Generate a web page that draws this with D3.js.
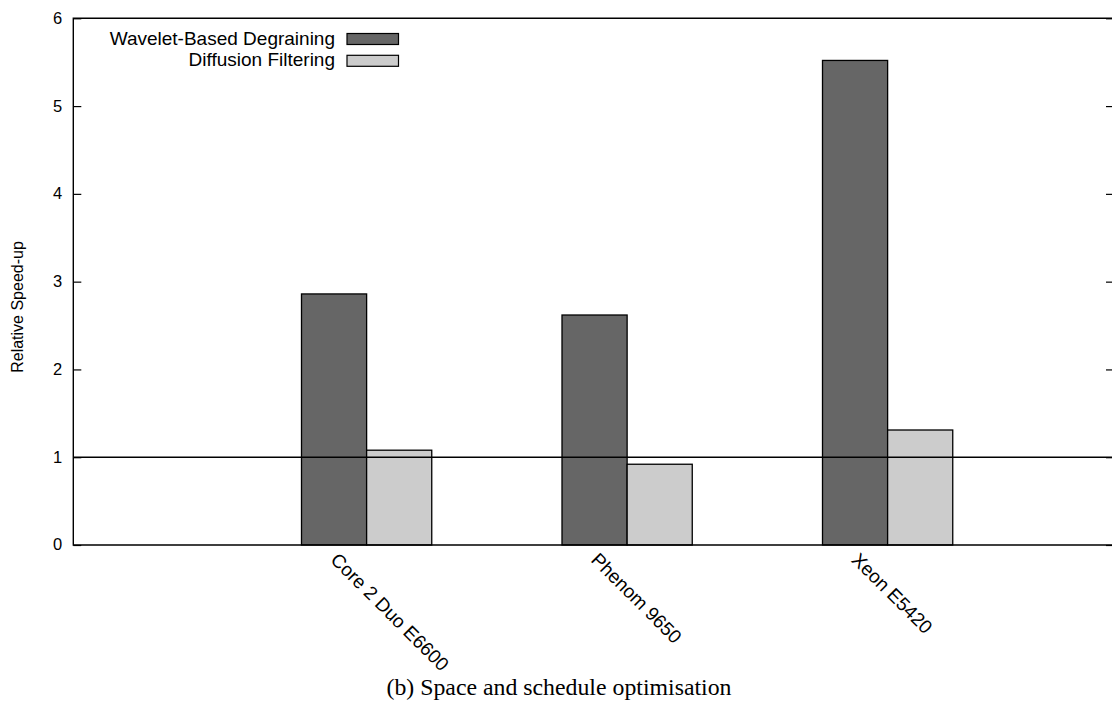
<!DOCTYPE html>
<html>
<head>
<meta charset="utf-8">
<script src="https://cdn.jsdelivr.net/npm/d3@7"></script>
<style>
  html, body { margin: 0; padding: 0; background: #fff; }
  svg { display: block; }
</style>
</head>
<body>
<svg id="chart" width="1112" height="709"></svg>
<script>
// Processors on the x axis
const processors = ["Core 2 Duo E6600", "Phenom 9650", "Xeon E5420"];
// Relative speed-up per processor
const waveletDegraining = [2.86, 2.62, 5.52];
const diffusionFiltering = [1.08, 0.92, 1.31];
// Series names and y tick values
const seriesNames = ["Wavelet-Based Degraining", "Diffusion Filtering"];
const yTicks = [0, 1, 2, 3, 4, 5, 6];
const baselineValue = 1;

const seriesValues = [waveletDegraining, diffusionFiltering];
const seriesFill = ["#666666", "#cccccc"];

const svg = d3.select("#chart");
const W = 1112, H = 709;
const plotLeft = 73.3, plotRight = 1114, plotTop = 18.3, plotBottom = 545;

// category index scale: clusters sit at integer positions
const x = d3.scaleLinear().domain([-1.126, 2.869]).range([plotLeft, plotRight]);
const y = d3.scaleLinear().domain([0, 6]).range([plotBottom, plotTop]);
const barW = 0.25;

const sans = "Liberation Sans, Arial, Helvetica, sans-serif";

svg.append("rect").attr("width", W).attr("height", H).attr("fill", "#fff");

// bars
const bars = svg.append("g");
seriesValues.forEach((vals, s) => {
  bars.selectAll(null)
    .data(vals)
    .enter()
    .append("rect")
    .attr("x", (d, i) => x(i + (s - 1) * barW))
    .attr("width", x(barW) - x(0))
    .attr("y", d => y(d))
    .attr("height", d => y(0) - y(d))
    .attr("fill", seriesFill[s])
    .attr("stroke", "#000")
    .attr("stroke-width", 1.3);
});

// reference line at speed-up 1
svg.append("line")
  .attr("x1", plotLeft).attr("x2", plotRight)
  .attr("y1", y(baselineValue)).attr("y2", y(baselineValue))
  .attr("stroke", "#000").attr("stroke-width", 1.4);

// left axis with inward ticks
const yAxis = d3.axisLeft(y).tickValues(yTicks).tickSize(-8).tickPadding(11)
  .tickFormat(d3.format("d"));
const ga = svg.append("g").attr("transform", `translate(${plotLeft},0)`).call(yAxis);
ga.select(".domain").remove();
ga.selectAll(".tick line").attr("stroke", "#000").attr("stroke-width", 1.2);
ga.selectAll(".tick text")
  .attr("font-family", sans).attr("font-size", 16.5).attr("fill", "#000")
  .attr("dy", "0.3em");

// mirrored ticks on the right
const gr = svg.append("g").attr("transform", `translate(${plotRight},0)`)
  .call(d3.axisRight(y).tickValues(yTicks).tickSize(-8).tickFormat(""));
gr.select(".domain").remove();
gr.selectAll(".tick line").attr("stroke", "#000").attr("stroke-width", 1.2);

// frame
svg.append("path")
  .attr("d", `M${plotRight},${plotTop}H${plotLeft}V${plotBottom}H${plotRight}V${plotTop}`)
  .attr("fill", "none").attr("stroke", "#000").attr("stroke-width", 1.4);

// category labels, rotated
svg.append("g").selectAll("text")
  .data(processors)
  .enter()
  .append("text")
  .attr("transform", (d, i) => `translate(${x(i) - 37},${plotBottom + 16}) rotate(45)`)
  .attr("font-family", sans).attr("font-size", 19).attr("fill", "#000")
  .text(d => d);

// y axis title
svg.append("text")
  .attr("transform", `translate(23,307) rotate(-90)`)
  .attr("text-anchor", "middle")
  .attr("font-family", sans).attr("font-size", 16).attr("fill", "#000")
  .text("Relative Speed-up");

// legend
const legend = svg.append("g");
seriesNames.forEach((name, s) => {
  const base = 44.5 + s * 21.8;
  legend.append("text")
    .attr("x", 335).attr("y", base)
    .attr("text-anchor", "end")
    .attr("font-family", sans).attr("font-size", 19).attr("fill", "#000")
    .text(name);
  legend.append("rect")
    .attr("x", 347).attr("y", base - 11)
    .attr("width", 51.5).attr("height", 11)
    .attr("fill", seriesFill[s])
    .attr("stroke", "#000").attr("stroke-width", 1.2);
});

// caption
svg.append("text")
  .attr("x", 559).attr("y", 695)
  .attr("text-anchor", "middle")
  .attr("font-family", "Liberation Serif, Times New Roman, serif")
  .attr("font-size", 23.8).attr("fill", "#000")
  .text("(b) Space and schedule optimisation");
</script>
</body>
</html>
